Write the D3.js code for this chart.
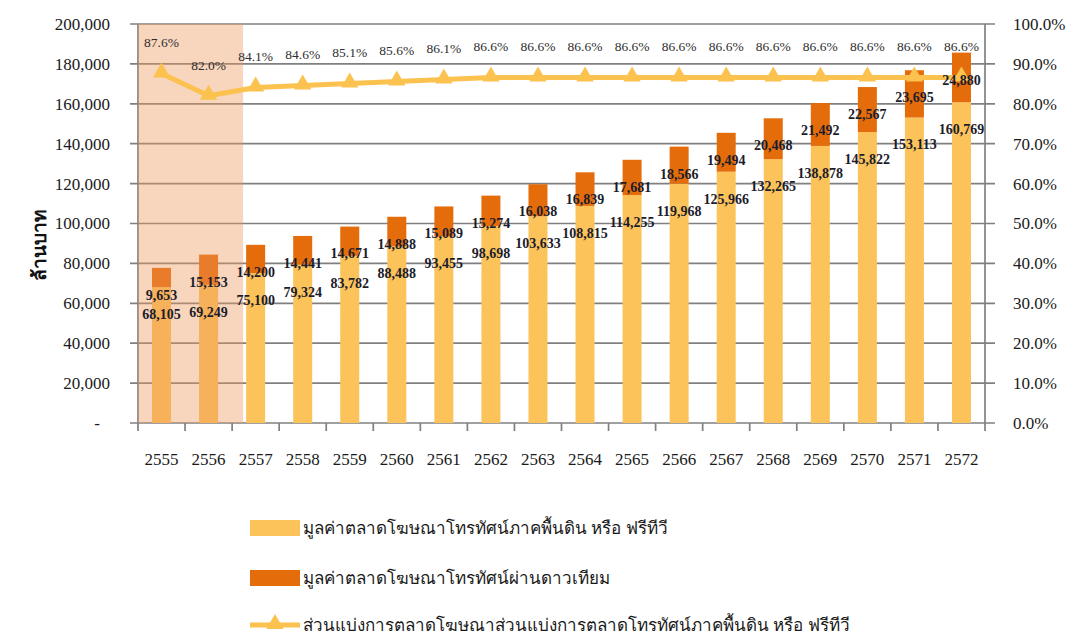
<!DOCTYPE html>
<html>
<head>
<meta charset="utf-8">
<script src="https://cdn.jsdelivr.net/npm/d3@7"></script>
<style>
  body { margin: 0; background: #fff; }
  svg text { font-family: "Liberation Serif", "Times New Roman", serif; }
</style>
</head>
<body>
<div id="chart"></div>
<script>
const years = ["2555","2556","2557","2558","2559","2560","2561","2562","2563","2564","2565","2566","2567","2568","2569","2570","2571","2572"];
const ftaValues = [68105, 69249, 75100, 79324, 83782, 88488, 93455, 98698, 103633, 108815, 114255, 119968, 125966, 132265, 138878, 145822, 153113, 160769];
const satValues = [9653, 15153, 14200, 14441, 14671, 14888, 15089, 15274, 16038, 16839, 17681, 18566, 19494, 20468, 21492, 22567, 23695, 24880];
const shareValues = [87.6, 82.0, 84.1, 84.6, 85.1, 85.6, 86.1, 86.6, 86.6, 86.6, 86.6, 86.6, 86.6, 86.6, 86.6, 86.6, 86.6, 86.6];
const leftTicks = [0, 20000, 40000, 60000, 80000, 100000, 120000, 140000, 160000, 180000, 200000];
const rightTicks = [0, 10, 20, 30, 40, 50, 60, 70, 80, 90, 100];
const actualYears = ["2555", "2556"];
const legendLabels = [
  "มูลค่าตลาดโฆษณาโทรทัศน์ภาคพื้นดิน หรือ ฟรีทีวี",
  "มูลค่าตลาดโฆษณาโทรทัศน์ผ่านดาวเทียม",
  "ส่วนแบ่งการตลาดโฆษณาส่วนแบ่งการตลาดโทรทัศน์ภาคพื้นดิน หรือ ฟรีทีวี"
];

const WIDTH = 1068;
const HEIGHT = 635;
const MARGIN = { top: 24, right: 83, bottom: 212, left: 138 };
const FTA_COLOR = "#fcc35a";
const SAT_COLOR = "#e46c0a";
const LINE_COLOR = "#fbc24f";
const GRID_COLOR = "#808080";
const BAR_WIDTH = 19;

const w = WIDTH - MARGIN.left - MARGIN.right;
const h = HEIGHT - MARGIN.top - MARGIN.bottom;

const svg = d3.select("#chart").append("svg")
  .attr("width", WIDTH)
  .attr("height", HEIGHT);

const g = svg.append("g")
  .attr("transform", "translate(" + MARGIN.left + "," + MARGIN.top + ")");

const x = d3.scaleBand().domain(years).range([0, w]).padding(0);
const y = d3.scaleLinear().domain([0, 200000]).range([h, 0]);
const yPct = d3.scaleLinear().domain([0, 100]).range([h, 0]);

const rows = years.map((yr, i) => ({ year: yr, fta: ftaValues[i], sat: satValues[i], share: shareValues[i] }));
const cx = (d) => x(d.year) + x.bandwidth() / 2;

// gridlines (tick marks stick out on both sides)
g.selectAll("line.grid")
  .data(leftTicks)
  .join("line")
  .attr("class", "grid")
  .attr("x1", -8).attr("x2", w + 10)
  .attr("y1", (d) => y(d)).attr("y2", (d) => y(d))
  .attr("stroke", GRID_COLOR)
  .attr("stroke-width", 1.7);

// left & right axis lines
g.append("line").attr("x1", 0).attr("x2", 0).attr("y1", 0).attr("y2", h)
  .attr("stroke", GRID_COLOR).attr("stroke-width", 1.7);
g.append("line").attr("x1", w).attr("x2", w).attr("y1", 0).attr("y2", h)
  .attr("stroke", GRID_COLOR).attr("stroke-width", 1.7);

// x tick marks at band edges
const edges = years.map((d) => x(d)).concat([w]);
g.selectAll("line.xtick")
  .data(edges)
  .join("line")
  .attr("class", "xtick")
  .attr("x1", (d) => d).attr("x2", (d) => d)
  .attr("y1", h).attr("y2", h + 8)
  .attr("stroke", GRID_COLOR)
  .attr("stroke-width", 1.7);

// bars
g.selectAll("rect.fta")
  .data(rows)
  .join("rect")
  .attr("class", "fta")
  .attr("x", (d) => cx(d) - BAR_WIDTH / 2)
  .attr("width", BAR_WIDTH)
  .attr("y", (d) => y(d.fta))
  .attr("height", (d) => h - y(d.fta))
  .attr("fill", FTA_COLOR);

g.selectAll("rect.sat")
  .data(rows)
  .join("rect")
  .attr("class", "sat")
  .attr("x", (d) => cx(d) - BAR_WIDTH / 2)
  .attr("width", BAR_WIDTH)
  .attr("y", (d) => y(d.fta + d.sat))
  .attr("height", (d) => y(d.fta) - y(d.fta + d.sat))
  .attr("fill", SAT_COLOR);

// shaded actual years
const shadeEnd = x(actualYears[actualYears.length - 1]) + x.bandwidth() + 11;
g.append("rect")
  .attr("x", 0)
  .attr("y", 0)
  .attr("width", shadeEnd)
  .attr("height", h)
  .attr("fill", "rgb(238,150,90)")
  .attr("opacity", 0.4);

// share line
const line = d3.line().x(cx).y((d) => yPct(d.share));
g.append("path")
  .datum(rows)
  .attr("d", line)
  .attr("fill", "none")
  .attr("stroke", LINE_COLOR)
  .attr("stroke-width", 5)
  .attr("stroke-linejoin", "round");

const tri = d3.symbol().type(d3.symbolTriangle).size(130);
g.selectAll("path.marker")
  .data(rows)
  .join("path")
  .attr("class", "marker")
  .attr("d", tri)
  .attr("transform", (d) => "translate(" + cx(d) + "," + (yPct(d.share) - 1) + ")")
  .attr("fill", LINE_COLOR);

// percentage labels
g.selectAll("text.pct")
  .data(rows)
  .join("text")
  .attr("class", "pct")
  .attr("x", cx)
  .attr("y", (d) => yPct(d.share) - 26)
  .attr("text-anchor", "middle")
  .attr("font-size", 13.5)
  .attr("fill", "#2e2e2e")
  .text((d) => d.share.toFixed(1) + "%");

// bar value labels
const fmt = d3.format(",");
g.selectAll("text.ftaLabel")
  .data(rows)
  .join("text")
  .attr("class", "ftaLabel")
  .attr("x", cx)
  .attr("y", (d) => y(d.fta) + 27)
  .attr("dy", "0.35em")
  .attr("text-anchor", "middle")
  .attr("font-size", 14)
  .attr("font-weight", "bold")
  .attr("fill", "#1c1c2a")
  .text((d) => fmt(d.fta));

g.selectAll("text.satLabel")
  .data(rows)
  .join("text")
  .attr("class", "satLabel")
  .attr("x", cx)
  .attr("y", (d) => y(d.fta + d.sat) + 27)
  .attr("dy", "0.35em")
  .attr("text-anchor", "middle")
  .attr("font-size", 14)
  .attr("font-weight", "bold")
  .attr("fill", "#1c1c2a")
  .text((d) => fmt(d.sat));

// left axis labels
g.selectAll("text.yl")
  .data(leftTicks)
  .join("text")
  .attr("class", "yl")
  .attr("x", (d) => d === 0 ? -38 : -28)
  .attr("y", (d) => y(d))
  .attr("dy", "0.35em")
  .attr("text-anchor", "end")
  .attr("font-size", 17)
  .attr("fill", "#1a1a1a")
  .text((d) => d === 0 ? "-" : fmt(d));

// right axis labels
g.selectAll("text.yr")
  .data(rightTicks)
  .join("text")
  .attr("class", "yr")
  .attr("x", w + 28)
  .attr("y", (d) => yPct(d))
  .attr("dy", "0.35em")
  .attr("font-size", 17)
  .attr("fill", "#1a1a1a")
  .text((d) => d.toFixed(1) + "%");

// x labels
g.selectAll("text.xl")
  .data(years)
  .join("text")
  .attr("class", "xl")
  .attr("x", (d) => x(d) + x.bandwidth() / 2)
  .attr("y", h + 36)
  .attr("dy", "0.35em")
  .attr("text-anchor", "middle")
  .attr("font-size", 17)
  .attr("fill", "#1a1a1a")
  .text((d) => d);

// y title
svg.append("text")
  .attr("transform", "translate(46,245) rotate(-90)")
  .attr("text-anchor", "middle")
  .attr("font-size", 19)
  .attr("font-weight", "bold")
  .attr("fill", "#111")
  .text("ล้านบาท");

// legend
const legend = svg.append("g").attr("transform", "translate(250,0)");
const legendY = [528, 578, 625];
legend.append("rect").attr("x", 0).attr("y", legendY[0] - 8).attr("width", 50).attr("height", 16).attr("fill", FTA_COLOR);
legend.append("rect").attr("x", 0).attr("y", legendY[1] - 8).attr("width", 50).attr("height", 16).attr("fill", SAT_COLOR);
legend.append("line").attr("x1", 0).attr("x2", 50).attr("y1", legendY[2]).attr("y2", legendY[2])
  .attr("stroke", LINE_COLOR).attr("stroke-width", 5);
legend.append("path").attr("d", tri).attr("transform", "translate(25," + (legendY[2] - 1) + ")").attr("fill", LINE_COLOR);
legend.selectAll("text")
  .data(legendLabels)
  .join("text")
  .attr("x", 53)
  .attr("y", (d, i) => legendY[i])
  .attr("dy", "0.35em")
  .attr("font-size", 17)
  .attr("fill", "#1a1a1a")
  .text((d) => d);
</script>
</body>
</html>
